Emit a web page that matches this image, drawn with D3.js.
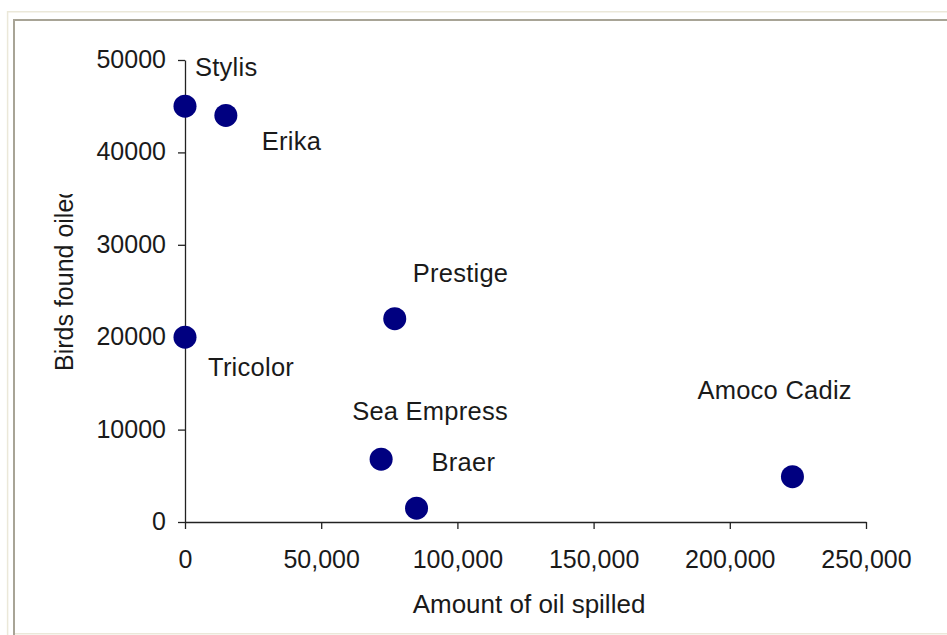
<!DOCTYPE html>
<html>
<head>
<meta charset="utf-8">
<script src="https://cdn.jsdelivr.net/npm/d3@7"></script>
<style>
  html, body { margin: 0; padding: 0; background: #ffffff; }
  svg { display: block; font-family: "Liberation Sans", Arial, sans-serif; }
</style>
</head>
<body>
<svg id="chart" width="947" height="635"></svg>
<script>
// ---- data ----
const ships = ["Stylis", "Erika", "Prestige", "Tricolor", "Sea Empress", "Braer", "Amoco Cadiz"];
const oilSpilled = [0, 15000, 77000, 0, 72000, 85000, 223000];
const birdsOiled = [45000, 44000, 22000, 20000, 6800, 1500, 4900];
const xTicks = [0, 50000, 100000, 150000, 200000, 250000];
const yTicks = [0, 10000, 20000, 30000, 40000, 50000];
const xTitle = "Amount of oil spilled";
const yTitle = "Birds found oiled";

// ---- layout (label offsets from point, in px) ----
const labelOffsets = [[10, -30], [36, 35], [18, -37], [23, 39], [-29, -39], [15, -37], [-95, -78]];

const svg = d3.select("#chart");

// frame
const beige = "#ebe8d9", gray = "#a8a496";
svg.append("line").attr("x1", 7.6).attr("x2", 7.6).attr("y1", 11).attr("y2", 635).attr("stroke", beige).attr("stroke-width", 1.5);
svg.append("line").attr("x1", 7).attr("x2", 947).attr("y1", 11.8).attr("y2", 11.8).attr("stroke", beige).attr("stroke-width", 1.5);
svg.append("line").attr("x1", 13).attr("x2", 947).attr("y1", 633.8).attr("y2", 633.8).attr("stroke", beige).attr("stroke-width", 1.5);
svg.append("line").attr("x1", 14).attr("x2", 14).attr("y1", 19).attr("y2", 635).attr("stroke", gray).attr("stroke-width", 2);
svg.append("line").attr("x1", 13).attr("x2", 947).attr("y1", 20).attr("y2", 20).attr("stroke", gray).attr("stroke-width", 2);

const x = d3.scaleLinear().domain([0, 250000]).range([185, 866]);
const y = d3.scaleLinear().domain([0, 50000]).range([522, 60]);

const axisColor = "#222";
const textColor = "#1a1a1a";

const gx = svg.append("g").attr("transform", "translate(0,522)")
  .call(d3.axisBottom(x).tickValues(xTicks).tickFormat(d3.format(",")).tickSize(7).tickSizeOuter(0).tickPadding(21));
const gy = svg.append("g").attr("transform", "translate(185,0)")
  .call(d3.axisLeft(y).tickValues(yTicks).tickFormat(d3.format("d")).tickSize(7).tickSizeOuter(0).tickPadding(12));

[gx, gy].forEach(g => {
  g.select(".domain").attr("stroke", axisColor).attr("stroke-width", 1.3);
  g.selectAll(".tick line").attr("stroke", axisColor).attr("stroke-width", 1.3);
  g.selectAll(".tick text").attr("fill", textColor).style("font-size", "25px").style("font-family", "'Liberation Sans', Arial, sans-serif");
});
gy.selectAll(".tick text").attr("dy", "0.3em");

// points
const data = ships.map((s, i) => ({ name: s, x: oilSpilled[i], y: birdsOiled[i], off: labelOffsets[i] }));
svg.append("g").selectAll("circle").data(data).join("circle")
  .attr("cx", d => x(d.x)).attr("cy", d => y(d.y)).attr("r", 11.5)
  .attr("fill", "#000080");

// labels
svg.append("g").selectAll("text").data(data).join("text")
  .attr("x", d => x(d.x) + d.off[0]).attr("y", d => y(d.y) + d.off[1])
  .attr("fill", textColor).style("font-size", "25.5px").style("letter-spacing", "0.25px")
  .text(d => d.name);

// axis titles
svg.append("text").attr("x", 529).attr("y", 613).attr("text-anchor", "middle")
  .attr("fill", textColor).style("font-size", "26px").text(xTitle);

svg.append("clipPath").attr("id", "ytclip").append("rect")
  .attr("x", 30).attr("y", 194).attr("width", 80).attr("height", 300);
svg.append("g").attr("clip-path", "url(#ytclip)")
  .append("text").attr("transform", "translate(73,371) rotate(-90)")
  .attr("text-anchor", "start").attr("fill", textColor).style("font-size", "25px").text(yTitle);
</script>
</body>
</html>
